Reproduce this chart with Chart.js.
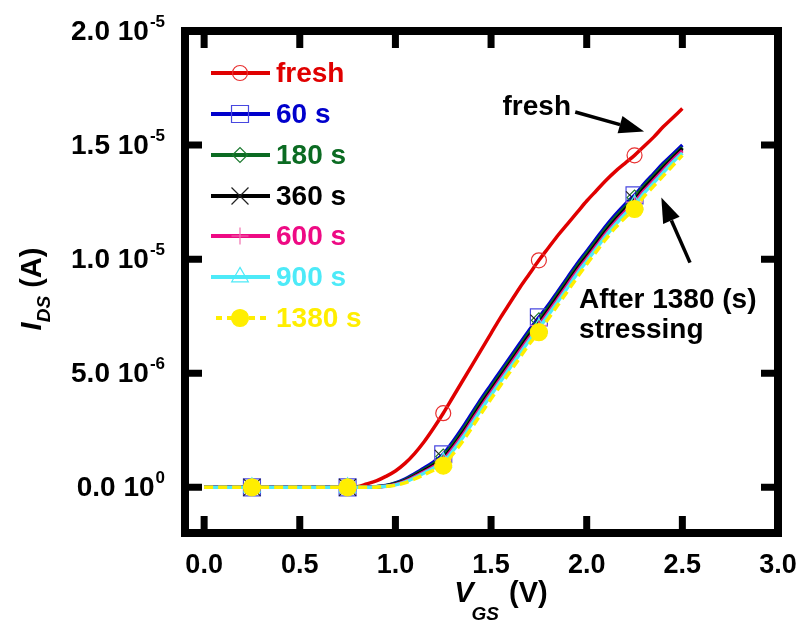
<!DOCTYPE html>
<html>
<head>
<meta charset="utf-8">
<script src="https://cdn.jsdelivr.net/npm/chart.js@4.4.1/dist/chart.umd.min.js"></script>
<style>
  html, body { margin: 0; padding: 0; background: #fff; }
  #wrap { width: 799px; height: 625px; }
</style>
</head>
<body>
<div id="wrap"><canvas id="idsChart" width="799" height="625"></canvas></div>
<script>
// gate voltage sweep (V)
const vgs = [0, 0.05, 0.1, 0.15, 0.2, 0.25, 0.3, 0.35, 0.4, 0.45, 0.5, 0.55, 0.6, 0.65, 0.7, 0.75,
  0.8, 0.85, 0.9, 0.95, 1.0, 1.05, 1.1, 1.15, 1.2, 1.25, 1.3, 1.35, 1.4, 1.45, 1.5, 1.55,
  1.6, 1.65, 1.7, 1.75, 1.8, 1.85, 1.9, 1.95, 2.0, 2.05, 2.1, 2.15, 2.2, 2.25, 2.3, 2.35,
  2.4, 2.45, 2.5];

// drain current, in uA (axis labels are written as x 10^-6 / 10^-5)
const idsFresh = [0, 0, 0, 0, 0, 0, 0, 0, 0, 0, 0, 0, 0, 0, 0, 0,
  0.03, 0.15, 0.28, 0.48, 0.72, 1.05, 1.48, 2.0, 2.6, 3.25, 3.95, 4.65, 5.35, 6.05, 6.75, 7.45,
  8.1, 8.75, 9.35, 9.95, 10.5, 11.05, 11.55, 12.05, 12.55, 13.0, 13.45, 13.85, 14.2, 14.55, 14.95, 15.35,
  15.8, 16.2, 16.6];
const ids60 = [0, 0, 0, 0, 0, 0, 0, 0, 0, 0, 0, 0, 0, 0, 0, 0, 0,
  0.01, 0.03, 0.08, 0.19, 0.36, 0.6, 0.85, 1.12, 1.45, 2.0, 2.6, 3.25, 3.9, 4.5, 5.1,
  5.7, 6.3, 6.9, 7.45, 8.0, 8.6, 9.2, 9.8, 10.35, 10.9, 11.45, 11.95, 12.4, 12.8, 13.3, 13.75,
  14.2, 14.6, 15.0];
const ids180 = [0, 0, 0, 0, 0, 0, 0, 0, 0, 0, 0, 0, 0, 0, 0, 0, 0,
  0.01, 0.03, 0.07, 0.17, 0.32, 0.54, 0.78, 1.03, 1.35, 1.88, 2.47, 3.12, 3.77, 4.37, 4.97,
  5.57, 6.17, 6.77, 7.32, 7.88, 8.48, 9.08, 9.68, 10.23, 10.78, 11.33, 11.83, 12.28, 12.7, 13.2, 13.65,
  14.1, 14.5, 14.9];
const ids360 = [0, 0, 0, 0, 0, 0, 0, 0, 0, 0, 0, 0, 0, 0, 0, 0, 0,
  0.01, 0.02, 0.06, 0.15, 0.29, 0.5, 0.73, 0.97, 1.27, 1.78, 2.36, 3.0, 3.65, 4.26, 4.86,
  5.46, 6.06, 6.66, 7.2, 7.77, 8.37, 8.97, 9.57, 10.12, 10.67, 11.22, 11.72, 12.18, 12.6, 13.1, 13.55,
  14.0, 14.42, 14.85];
const ids600 = [0, 0, 0, 0, 0, 0, 0, 0, 0, 0, 0, 0, 0, 0, 0, 0, 0,
  0.01, 0.02, 0.05, 0.13, 0.26, 0.46, 0.68, 0.91, 1.2, 1.7, 2.27, 2.91, 3.55, 4.16, 4.76,
  5.36, 5.96, 6.56, 7.1, 7.67, 8.27, 8.87, 9.47, 10.02, 10.57, 11.12, 11.62, 12.08, 12.5, 13.0, 13.45,
  13.9, 14.35, 14.75];
const ids900 = [0, 0, 0, 0, 0, 0, 0, 0, 0, 0, 0, 0, 0, 0, 0, 0, 0,
  0.0, 0.02, 0.05, 0.11, 0.23, 0.42, 0.63, 0.85, 1.1, 1.6, 2.16, 2.8, 3.44, 4.05, 4.65,
  5.25, 5.85, 6.45, 6.98, 7.56, 8.16, 8.76, 9.36, 9.92, 10.47, 11.02, 11.52, 11.98, 12.38, 12.9, 13.35,
  13.8, 14.25, 14.65];
const ids1380 = [0, 0, 0, 0, 0, 0, 0, 0, 0, 0, 0, 0, 0, 0, 0, 0, 0,
  0.0, 0.01, 0.04, 0.09, 0.2, 0.37, 0.56, 0.75, 0.95, 1.45, 2.0, 2.62, 3.26, 3.88, 4.48,
  5.08, 5.68, 6.28, 6.8, 7.4, 8.0, 8.6, 9.2, 9.78, 10.33, 10.88, 11.38, 11.82, 12.2, 12.75, 13.2,
  13.65, 14.1, 14.55];

const seriesNames = ['fresh', '60 s', '180 s', '360 s', '600 s', '900 s', '1380 s'];
const markerV = [0.25, 0.75, 1.25, 1.75, 2.25];

const xTicks = [0, 0.5, 1.0, 1.5, 2.0, 2.5, 3.0];
const xTickLabels = ['0.0', '0.5', '1.0', '1.5', '2.0', '2.5', '3.0'];
const yTicks = [0, 5, 10, 15, 20];
const yTickMain = ['0.0 10', '5.0 10', '1.0 10', '1.5 10', '2.0 10'];
const yTickExp = ['0', '-6', '-5', '-5', '-5'];

// look of each series (same order as seriesNames)
const styles = [
  { line: '#e00000', text: '#e00000', point: 'circle', r: 7.5, pc: '#e83030', fill: 'rgba(0,0,0,0)' },
  { line: '#0000cc', text: '#0000cc', point: 'rect', r: 12, pc: '#4848e0', fill: 'rgba(0,0,0,0)' },
  { line: '#0b6b22', text: '#0b6b22', point: 'rectRot', r: 7.5, pc: '#1d7a30', fill: 'rgba(0,0,0,0)' },
  { line: '#000000', text: '#000000', point: 'crossRot', r: 12, pc: '#222222', fill: 'rgba(0,0,0,0)' },
  { line: '#ee0a84', text: '#ee0a84', point: 'cross', r: 8.5, pc: '#f070b0', fill: 'rgba(0,0,0,0)' },
  { line: '#4deaf8', text: '#4deaf8', point: 'triangle', r: 9.6, pc: '#4deaf8', fill: 'rgba(0,0,0,0)' },
  { line: '#ffee00', text: '#ffee00', point: 'circle', r: 8.5, pc: '#ffee00', fill: '#ffee00', dash: [9, 5] }
];

const allIds = [idsFresh, ids60, ids180, ids360, ids600, ids900, ids1380];

function isMarker(i) {
  return markerV.some(m => Math.abs(vgs[i] - m) < 1e-6);
}

const datasets = allIds.map((vals, k) => {
  const s = styles[k];
  return {
    label: seriesNames[k],
    data: vgs.map((v, i) => ({ x: v, y: vals[i] })),
    borderColor: s.line,
    borderWidth: 3.5,
    borderDash: s.dash || [],
    fill: false,
    cubicInterpolationMode: 'monotone',
    pointStyle: s.point,
    pointRadius: ctx => isMarker(ctx.dataIndex) ? s.r : 0,
    pointHoverRadius: 0,
    pointBorderColor: s.pc,
    pointBackgroundColor: s.fill,
    pointBorderWidth: 1.2,
    order: 6 - k
  };
});

function arrow(ctx, x1, y1, x2, y2) {
  const ang = Math.atan2(y2 - y1, x2 - x1);
  const len = 25, half = 9;
  const bx = x2 - len * Math.cos(ang), by = y2 - len * Math.sin(ang);
  ctx.beginPath();
  ctx.moveTo(x1, y1);
  ctx.lineTo(bx, by);
  ctx.stroke();
  ctx.beginPath();
  ctx.moveTo(x2, y2);
  ctx.lineTo(bx + half * Math.sin(ang), by - half * Math.cos(ang));
  ctx.lineTo(bx - half * Math.sin(ang), by + half * Math.cos(ang));
  ctx.closePath();
  ctx.fill();
}

const FONT = '"Liberation Sans", Arial, Helvetica, sans-serif';

const framePlugin = {
  id: 'frame',
  afterDraw(chart) {
    const ctx = chart.ctx, a = chart.chartArea;
    const xs = chart.scales.x, ys = chart.scales.y;
    ctx.save();
    ctx.fillStyle = '#000';
    ctx.strokeStyle = '#000';

    // thick box
    ctx.lineWidth = 8;
    ctx.strokeRect(a.left, a.top, a.right - a.left, a.bottom - a.top);

    // inward ticks
    ctx.lineWidth = 7;
    const tl = 17;
    xTicks.forEach(v => {
      const px = xs.getPixelForValue(v);
      ctx.beginPath();
      ctx.moveTo(px, a.bottom); ctx.lineTo(px, a.bottom - tl);
      ctx.moveTo(px, a.top); ctx.lineTo(px, a.top + tl);
      ctx.stroke();
    });
    yTicks.forEach(v => {
      const py = ys.getPixelForValue(v);
      ctx.beginPath();
      ctx.moveTo(a.left, py); ctx.lineTo(a.left + tl, py);
      ctx.moveTo(a.right, py); ctx.lineTo(a.right - tl, py);
      ctx.stroke();
    });

    // x tick labels
    ctx.font = 'bold 27px ' + FONT;
    ctx.textAlign = 'center';
    ctx.textBaseline = 'alphabetic';
    xTicks.forEach((v, i) => {
      ctx.fillText(xTickLabels[i], xs.getPixelForValue(v), 573);
    });

    // y tick labels with superscript exponent
    ctx.textAlign = 'left';
    yTicks.forEach((v, i) => {
      const py = ys.getPixelForValue(v) + 9;
      ctx.font = 'bold 28px ' + FONT;
      const wMain = ctx.measureText(yTickMain[i]).width;
      ctx.font = 'bold 17px ' + FONT;
      const wExp = ctx.measureText(yTickExp[i]).width;
      const x0 = 165 - wMain - wExp - 1;
      ctx.font = 'bold 28px ' + FONT;
      ctx.fillText(yTickMain[i], x0, py);
      ctx.font = 'bold 17px ' + FONT;
      ctx.fillText(yTickExp[i], x0 + wMain + 1, py - 13);
    });

    // x axis title: V_GS (V)
    ctx.font = 'italic bold 29px ' + FONT;
    const wV = ctx.measureText('V').width;
    ctx.font = 'italic bold 19px ' + FONT;
    const wGS = ctx.measureText('GS').width;
    ctx.font = 'bold 29px ' + FONT;
    const wUnit = ctx.measureText(' (V)').width;
    let xt = 501 - (wV + wGS + wUnit) / 2;
    ctx.font = 'italic bold 29px ' + FONT;
    ctx.fillText('V', xt, 602); xt += wV - 2;
    ctx.font = 'italic bold 19px ' + FONT;
    ctx.fillText('GS', xt, 620); xt += wGS + 2;
    ctx.font = 'bold 29px ' + FONT;
    ctx.fillText(' (V)', xt, 602);

    // y axis title: I_DS (A), rotated
    ctx.save();
    ctx.translate(41, 289);
    ctx.rotate(-Math.PI / 2);
    ctx.font = 'italic bold 29px ' + FONT;
    const wI = ctx.measureText('I').width;
    ctx.font = 'italic bold 19px ' + FONT;
    const wDS = ctx.measureText('DS').width;
    ctx.font = 'bold 29px ' + FONT;
    const wA = ctx.measureText(' (A)').width;
    let yt = -(wI + wDS + wA) / 2;
    ctx.font = 'italic bold 29px ' + FONT;
    ctx.fillText('I', yt, 0); yt += wI;
    ctx.font = 'italic bold 19px ' + FONT;
    ctx.fillText('DS', yt, 9); yt += wDS;
    ctx.font = 'bold 29px ' + FONT;
    ctx.fillText(' (A)', yt, 0);
    ctx.restore();

    // legend
    const legY = [73, 114, 155, 196, 236, 277, 318];
    ctx.font = 'bold 28px ' + FONT;
    ctx.textBaseline = 'middle';
    seriesNames.forEach((name, k) => {
      const s = styles[k], y = legY[k];
      ctx.save();
      ctx.strokeStyle = s.line;
      ctx.lineWidth = 4;
      if (s.dash) ctx.setLineDash([6, 5]);
      ctx.beginPath();
      ctx.moveTo(s.dash ? 216 : 211, y);
      ctx.lineTo(s.dash ? 266 : 270, y);
      ctx.stroke();
      ctx.setLineDash([]);
      ctx.strokeStyle = s.pc;
      ctx.fillStyle = s.fill;
      ctx.lineWidth = 1.2;
      Chart.helpers.drawPoint(ctx, { pointStyle: s.point, radius: s.r, rotation: 0, borderWidth: 1.2 }, 240, y);
      ctx.restore();
      ctx.fillStyle = s.text;
      ctx.fillText(name, 276, y + 1);
    });

    // annotations, placed in data units
    ctx.fillStyle = '#000';
    ctx.strokeStyle = '#000';
    ctx.lineWidth = 3.5;
    ctx.textBaseline = 'alphabetic';
    ctx.font = 'bold 28px ' + FONT;
    ctx.fillText('fresh', xs.getPixelForValue(1.56), ys.getPixelForValue(16.3));
    arrow(ctx, xs.getPixelForValue(1.94), ys.getPixelForValue(16.45),
      xs.getPixelForValue(2.3), ys.getPixelForValue(15.6));
    ctx.fillText('After 1380 (s)', xs.getPixelForValue(1.96), ys.getPixelForValue(7.87));
    ctx.fillText('stressing', xs.getPixelForValue(1.96), ys.getPixelForValue(6.55));
    arrow(ctx, xs.getPixelForValue(2.54), ys.getPixelForValue(9.85),
      xs.getPixelForValue(2.39), ys.getPixelForValue(12.7));

    ctx.restore();
  }
};

new Chart(document.getElementById('idsChart'), {
  type: 'line',
  data: { datasets: datasets },
  options: {
    responsive: false,
    animation: false,
    devicePixelRatio: 1,
    layout: { padding: { left: 185, right: 21, top: 31, bottom: 92 } },
    plugins: { legend: { display: false }, tooltip: { enabled: false } },
    scales: {
      x: { type: 'linear', min: -0.1, max: 3.0, display: false },
      y: { type: 'linear', min: -2, max: 20, display: false }
    }
  },
  plugins: [framePlugin]
});
</script>
</body>
</html>
